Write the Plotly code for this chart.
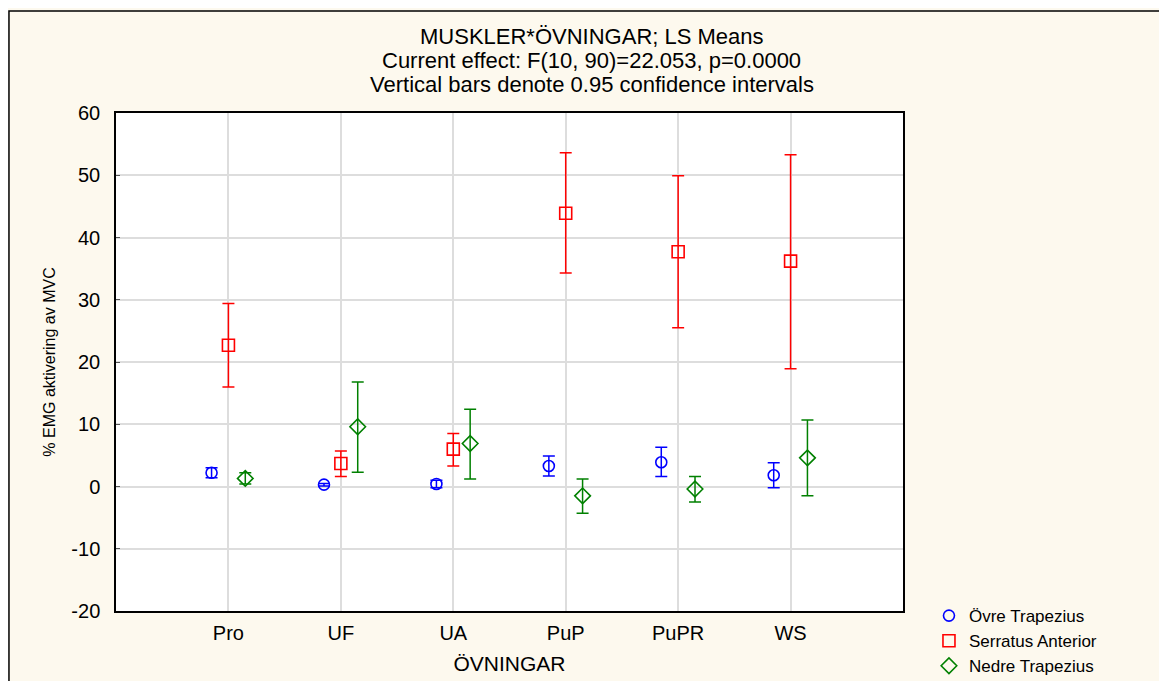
import plotly.graph_objects as go

categories = ["Pro", "UF", "UA", "PuP", "PuPR", "WS"]

y_tickvals = [-20, -10, 0, 10, 20, 30, 40, 50, 60]
y_ticktext = ["-20", "-10", "0", "10", "20", "30", "40", "50", "60"]

ovre_mean = [2.2, 0.3, 0.4, 3.3, 3.9, 1.8]
ovre_low = [1.4, 0.1, -0.2, 1.7, 1.6, -0.2]
ovre_high = [3.0, 0.5, 1.0, 4.9, 6.3, 3.8]

serr_mean = [22.7, 3.7, 6.0, 43.9, 37.7, 36.2]
serr_low = [16.0, 1.6, 3.3, 34.3, 25.5, 18.9]
serr_high = [29.4, 5.7, 8.5, 53.6, 49.9, 53.3]

nedre_mean = [1.3, 9.6, 6.9, -1.5, -0.4, 4.6]
nedre_low = [0.4, 2.3, 1.2, -4.3, -2.5, -1.5]
nedre_high = [2.2, 16.8, 12.4, 1.2, 1.6, 10.7]

title_lines = [
    "MUSKLER*ÖVNINGAR; LS Means",
    "Current effect: F(10, 90)=22.053, p=0.0000",
    "Vertical bars denote 0.95 confidence intervals",
]

series = [
    ("Övre Trapezius", ovre_mean, ovre_low, ovre_high, "#0000FF", "circle-open", 11, -0.15),
    ("Serratus Anterior", serr_mean, serr_low, serr_high, "#FF0000", "square-open", 12, 0.0),
    ("Nedre Trapezius", nedre_mean, nedre_low, nedre_high, "#008000", "diamond-open", 12, 0.15),
]

FONT = "Liberation Sans, Arial, sans-serif"

fig = go.Figure()
idx = list(range(len(categories)))
for name, m, lo, hi, col, sym, sz, off in series:
    fig.add_trace(go.Scatter(
        x=[i + off for i in idx], y=m, mode="markers", name=name,
        marker=dict(symbol=sym, size=sz, color=col, line=dict(color=col, width=1.6)),
        error_y=dict(type="data", symmetric=False,
                     array=[h - v for h, v in zip(hi, m)],
                     arrayminus=[v - l for v, l in zip(m, lo)],
                     color=col, thickness=1.5, width=6),
    ))

title_y = [1.1546, 1.1064, 1.0582]
annotations = [
    dict(text=t, xref="paper", yref="paper", x=0.6048, y=yy,
         xanchor="center", yanchor="middle", showarrow=False,
         font=dict(family=FONT, size=22, color="#000000"))
    for t, yy in zip(title_lines, title_y)
]

fig.update_layout(
    width=1167, height=681,
    margin=dict(l=108, r=272, t=105, b=78, autoexpand=False),
    paper_bgcolor="#FDF9EE", plot_bgcolor="#FFFFFF",
    font=dict(family=FONT, size=20, color="#000000"),
    showlegend=True,
    legend=dict(x=1.033, xanchor="left", y=0.026, yanchor="top",
                bgcolor="rgba(0,0,0,0)", font=dict(size=17), itemwidth=30,
                tracegroupgap=0),
    annotations=annotations,
    shapes=[dict(type="rect", xref="paper", yref="paper",
                 x0=-0.136, x1=1.5, y0=-0.4, y1=1.2048,
                 line=dict(color="#000000", width=1.5), layer="below")],
)

fig.update_xaxes(
    range=[-1, 6], tickmode="array", tickvals=idx, ticktext=categories,
    showgrid=True, gridcolor="#DDDDDD", gridwidth=1.5,
    showline=True, linecolor="#000000", linewidth=1.5, mirror=True,
    ticks="", ticklabelstandoff=3, zeroline=False,
    title=dict(text="ÖVNINGAR", standoff=14, font=dict(size=21)),
)
fig.update_yaxes(
    range=[-20, 60], tickmode="array", tickvals=y_tickvals, ticktext=y_ticktext,
    showgrid=True, gridcolor="#DDDDDD", gridwidth=1.5,
    showline=True, linecolor="#000000", linewidth=1.5, mirror=True,
    ticks="inside", ticklen=4, tickcolor="#555555", ticklabelstandoff=10, zeroline=False,
    title=dict(text="% EMG aktivering av MVC", standoff=12, font=dict(size=16)),
)

fig.write_html("out.html")
